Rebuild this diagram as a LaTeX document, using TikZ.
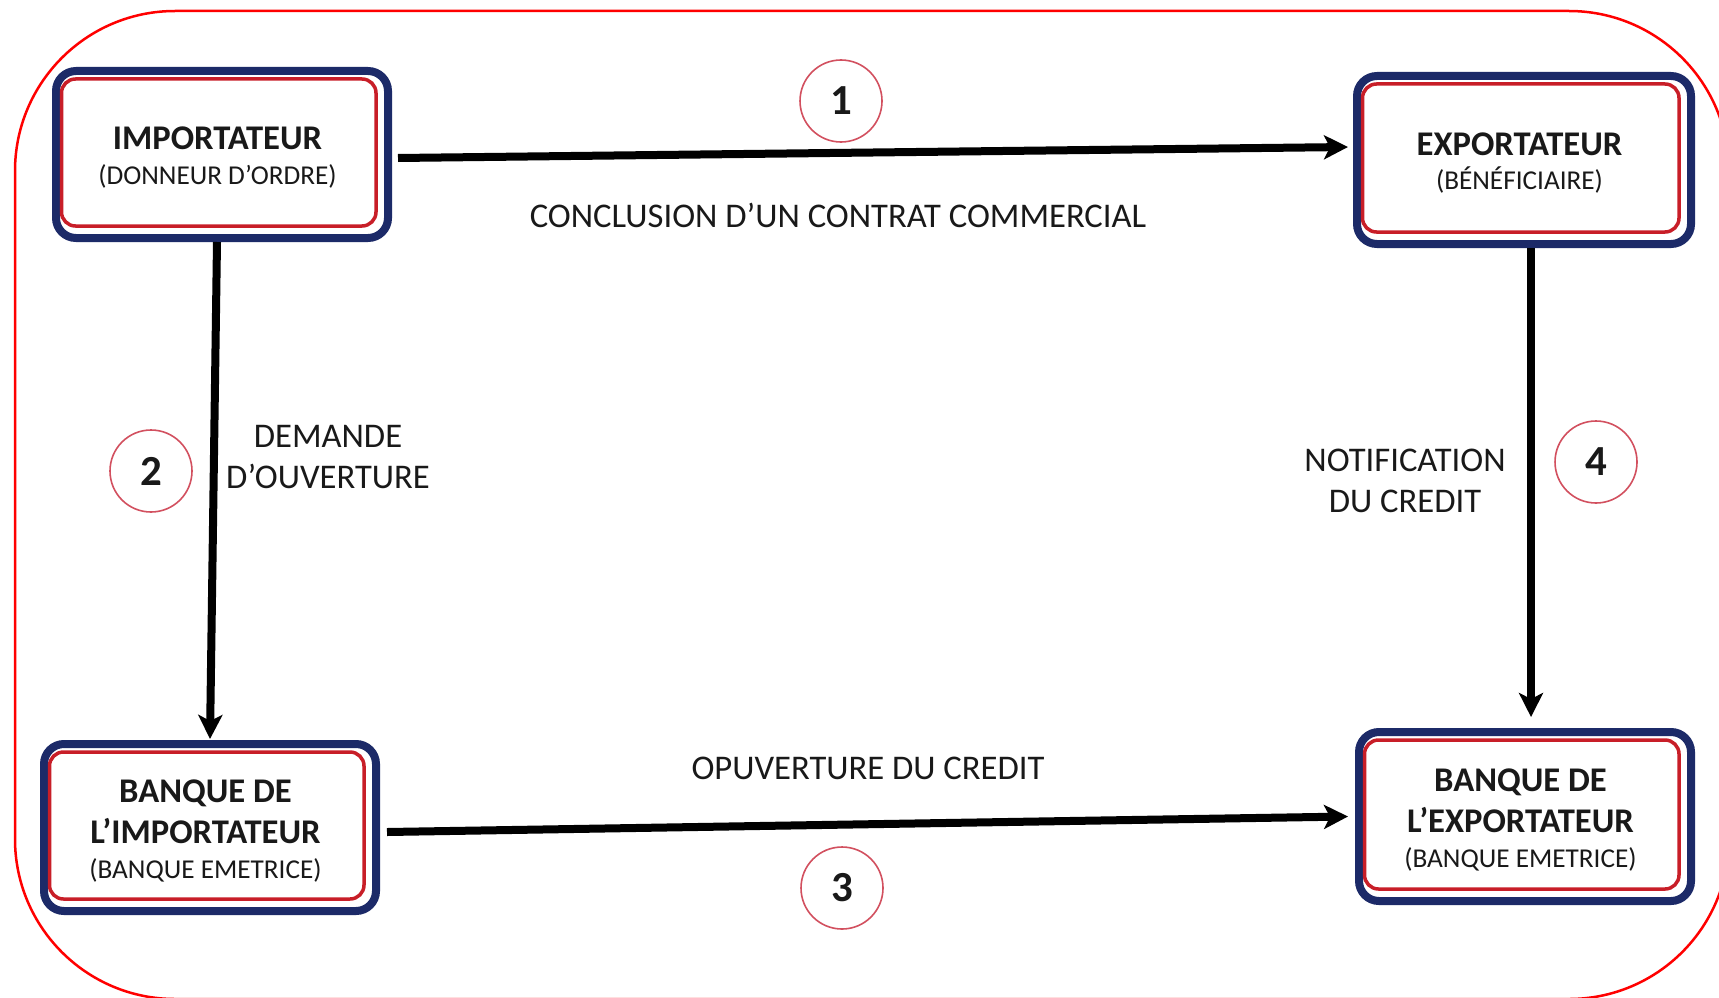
\documentclass[tikz,border=0pt]{standalone}
\usepackage{fontspec}
\setmainfont{Carlito}
\usetikzlibrary{arrows.meta}
\newlength\unitpx
\setlength\unitpx{0.02cm}
\definecolor{navy}{RGB}{28,42,104}
\definecolor{innerred}{RGB}{200,30,40}
\definecolor{ringred}{RGB}{210,80,95}
\definecolor{framered}{RGB}{255,0,0}
\definecolor{ink}{RGB}{25,25,25}

\begin{document}
\begin{tikzpicture}[x=0.02cm,y=-0.02cm,
  party/.style={rectangle, rounded corners=20\unitpx, draw=navy, line width=8\unitpx,
    fill=white, inner sep=0pt},
  partytext/.style={align=center, inner sep=0pt, text=ink,
    font=\fontsize{19.7}{23.2}\selectfont},
  subline/.style={},
  innerline/.style={draw=innerred, line width=3.5\unitpx, rounded corners=14\unitpx},
  flow/.style={draw=black, line width=8\unitpx,
    -{Stealth[length=13.66pt, width=13.66pt, inset=3.41pt]}},
  stepnum/.style={circle, draw=ringred, line width=1.6\unitpx, minimum size=82\unitpx,
    inner sep=0pt, text=ink, font=\fontsize{24.4}{28}\selectfont\bfseries},
  caption/.style={align=center, text=ink, inner sep=0pt,
    font=\fontsize{19.7}{23.2}\selectfont}
]
\useasboundingbox (0,0) rectangle (1719,997);
\fill[white] (0,0) rectangle (1719,997);

% outer rounded frame, partly running past the page edge
\begin{scope}
  \clip (0,0) rectangle (1719,997);
  \draw[framered, line width=2.5\unitpx, rounded corners=160\unitpx]
    (15,11) rectangle (1729,999);
\end{scope}

% the four parties
\node[party, minimum width=332\unitpx, minimum height=167\unitpx] (imp) at (222,154.5) {};
\node[party, minimum width=334\unitpx, minimum height=168\unitpx] (exp) at (1524,160) {};
\node[party, minimum width=332\unitpx, minimum height=167\unitpx] (bim) at (210,827.5) {};
\node[party, minimum width=332\unitpx, minimum height=169\unitpx] (bex) at (1525,816.5) {};

% inner red outline of each box
\foreach \b in {imp,exp,bim,bex}{
  \draw[innerline] ([xshift=9.5\unitpx,yshift=-12\unitpx]\b.north west)
    rectangle ([xshift=-16\unitpx,yshift=16\unitpx]\b.south east);
}

% box texts
\newcommand\subtitle[1]{{\fontsize{15.5}{18}\selectfont #1}}
\node[partytext] (imp-t) at ([xshift=-4.5\unitpx,yshift=-3\unitpx]imp.center)
  {\bfseries IMPORTATEUR\\[-3.6pt]\subtitle{(DONNEUR D’ORDRE)}};
\node[partytext] (exp-t) at ([xshift=-4.5\unitpx,yshift=-3\unitpx]exp.center)
  {\bfseries EXPORTATEUR\\[-3.6pt]\subtitle{(BÉNÉFICIAIRE)}};
\node[partytext] (bim-t) at ([xshift=-4.5\unitpx,yshift=-3.5\unitpx]bim.center)
  {\bfseries BANQUE DE\\\bfseries L’IMPORTATEUR\\[-3.2pt]\subtitle{(BANQUE EMETRICE)}};
\node[partytext] (bex-t) at ([xshift=-4.5\unitpx,yshift=-3.5\unitpx]bex.center)
  {\bfseries BANQUE DE\\\bfseries L’EXPORTATEUR\\[-3.2pt]\subtitle{(BANQUE EMETRICE)}};

% flows between the parties
\draw[flow] ([xshift=6\unitpx,yshift=-3.5\unitpx]imp.east) -- ([xshift=-5\unitpx,yshift=13\unitpx]exp.west);
\draw[flow] ([xshift=-5\unitpx]imp.south) -- ([yshift=1\unitpx]bim.north);
\draw[flow] ([xshift=7\unitpx,yshift=-4.5\unitpx]bim.east) -- ([xshift=-7\unitpx]bex.west);
\draw[flow] ([xshift=7\unitpx]exp.south) -- ([xshift=6\unitpx,yshift=11\unitpx]bex.north);

% step numbers
\node[stepnum] (n1) at (841,101) {1};
\node[stepnum] (n2) at (151,471) {2};
\node[stepnum] (n3) at (842,888) {3};
\node[stepnum] (n4) at (1596,462) {4};

% flow captions
\node[caption] (l1) at (838,215) {CONCLUSION D’UN CONTRAT COMMERCIAL};
\node[caption] (l2) at (328,457) {DEMANDE\\D’OUVERTURE};
\node[caption] (l3) at (868,768) {OPUVERTURE DU CREDIT};
\node[caption] (l4) at (1405,481) {NOTIFICATION\\DU CREDIT};
\end{tikzpicture}
\end{document}
